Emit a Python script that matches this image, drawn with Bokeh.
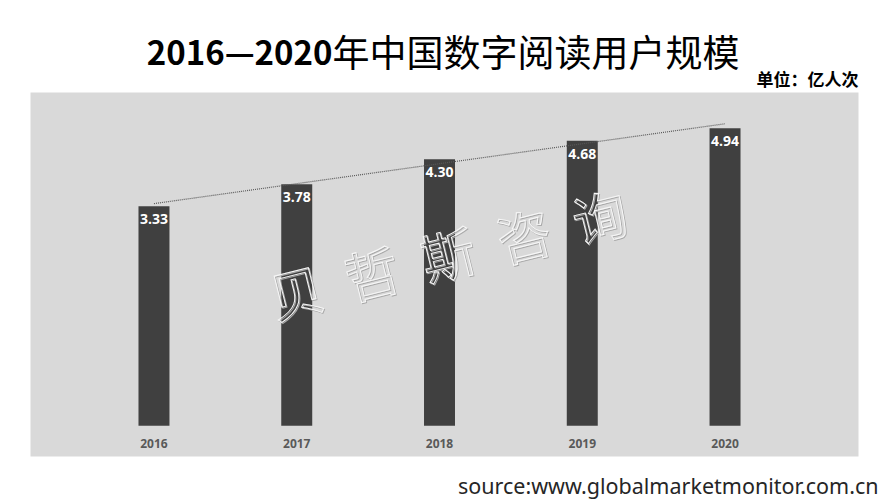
import numpy as np
from bokeh.plotting import figure
from bokeh.models import Range1d, Label, ColumnDataSource, BoxAnnotation
from bokeh.embed import file_html
from bokeh.resources import INLINE
from bokeh.core.properties import value

# ---- data ----
years = [2016, 2017, 2018, 2019, 2020]
year_labels = ["2016", "2017", "2018", "2019", "2020"]
users = [3.33, 3.78, 4.30, 4.68, 4.94]
value_labels = ["3.33", "3.78", "4.30", "4.68", "4.94"]

title_num = "2016—2020"
title_cn = "年中国数字阅读用户规模"
unit_text = "单位：亿人次"
source_text = "source:www.globalmarketmonitor.com.cn"
watermark = "贝\u00a0\u00a0哲\u00a0\u00a0斯\u00a0\u00a0咨\u00a0\u00a0询"

# ---- axis layout ----
AXIS_MIN = -1.2
X_START, X_END = 2014.925, 2021.152
Y_START, Y_END = -2.745, 7.574

W, H = 889, 500
p = figure(width=W, height=H, output_backend="svg", toolbar_location=None,
           x_range=Range1d(X_START, X_END), y_range=Range1d(Y_START, Y_END),
           min_border_left=0, min_border_right=0, min_border_top=0, min_border_bottom=0,
           title=None)
p.axis.visible = False
p.grid.visible = False
p.outline_line_color = None
p.background_fill_color = "white"
p.border_fill_color = "white"

# grey chart panel
p.add_layout(BoxAnnotation(left=30, right=858, top=408, bottom=44,
                           left_units="screen", right_units="screen",
                           top_units="screen", bottom_units="screen",
                           fill_color="#d9d9d9", fill_alpha=1.0, line_color=None,
                           level="underlay"))

src = ColumnDataSource(dict(x=years, top=users, lbl=value_labels, yl=year_labels))

p.vbar(x="x", top="top", bottom=AXIS_MIN, width=0.217, fill_color="#404040",
       line_color=None, source=src)

coef = np.polyfit(years, users, 1)
trend = np.polyval(coef, years)
p.line(years, trend, line_dash="1 1", line_color="#595959", line_width=1.2)

p.text(x="x", y="top", text="lbl", y_offset=13, text_align="center",
       text_baseline="middle", text_color="white", text_font=value("Open Sans"),
       text_font_style="bold", text_font_size="14px", source=src)

p.text(x="x", y=AXIS_MIN, text="yl", y_offset=18, text_align="center",
       text_baseline="middle", text_color="#595959", text_font=value("Open Sans"),
       text_font_style="bold", text_font_size="12px", source=src)

# watermark (embossed outline: soft shadow + light edge)
p.add_layout(Label(x=448, y=247, x_units="screen", y_units="screen", text=watermark,
                   angle=14, angle_units="deg", text_align="center", text_baseline="middle",
                   text_font="Noto Sans CJK SC", text_font_size="54px",
                   text_color="rgba(0,0,0,0)", text_outline_color="#a8a8a8"))
p.add_layout(Label(x=447, y=248, x_units="screen", y_units="screen", text=watermark,
                   angle=14, angle_units="deg", text_align="center", text_baseline="middle",
                   text_font="Noto Sans CJK SC", text_font_size="54px",
                   text_color="rgba(0,0,0,0)", text_outline_color="#f7f7f7"))

# title
p.add_layout(Label(x=332, y=450, x_units="screen", y_units="screen", text=title_num,
                   text_align="right", text_baseline="middle",
                   text_font="Noto Sans CJK SC", text_font_style="bold",
                   text_font_size="33px", text_color="black"))
p.add_layout(Label(x=332, y=450, x_units="screen", y_units="screen", text=title_cn,
                   text_align="left", text_baseline="middle",
                   text_font="Noto Sans CJK SC", text_font_style="normal",
                   text_font_size="37px", text_color="black"))

p.add_layout(Label(x=858, y=422, x_units="screen", y_units="screen", text=unit_text,
                   text_align="right", text_baseline="middle",
                   text_font="Noto Sans CJK SC", text_font_style="bold",
                   text_font_size="17px", text_color="black"))

p.add_layout(Label(x=878, y=15, x_units="screen", y_units="screen", text=source_text,
                   text_align="right", text_baseline="middle",
                   text_font="Noto Sans", text_font_size="21.5px", text_color="#262626"))

open("out.html", "w").write(file_html(p, INLINE))
